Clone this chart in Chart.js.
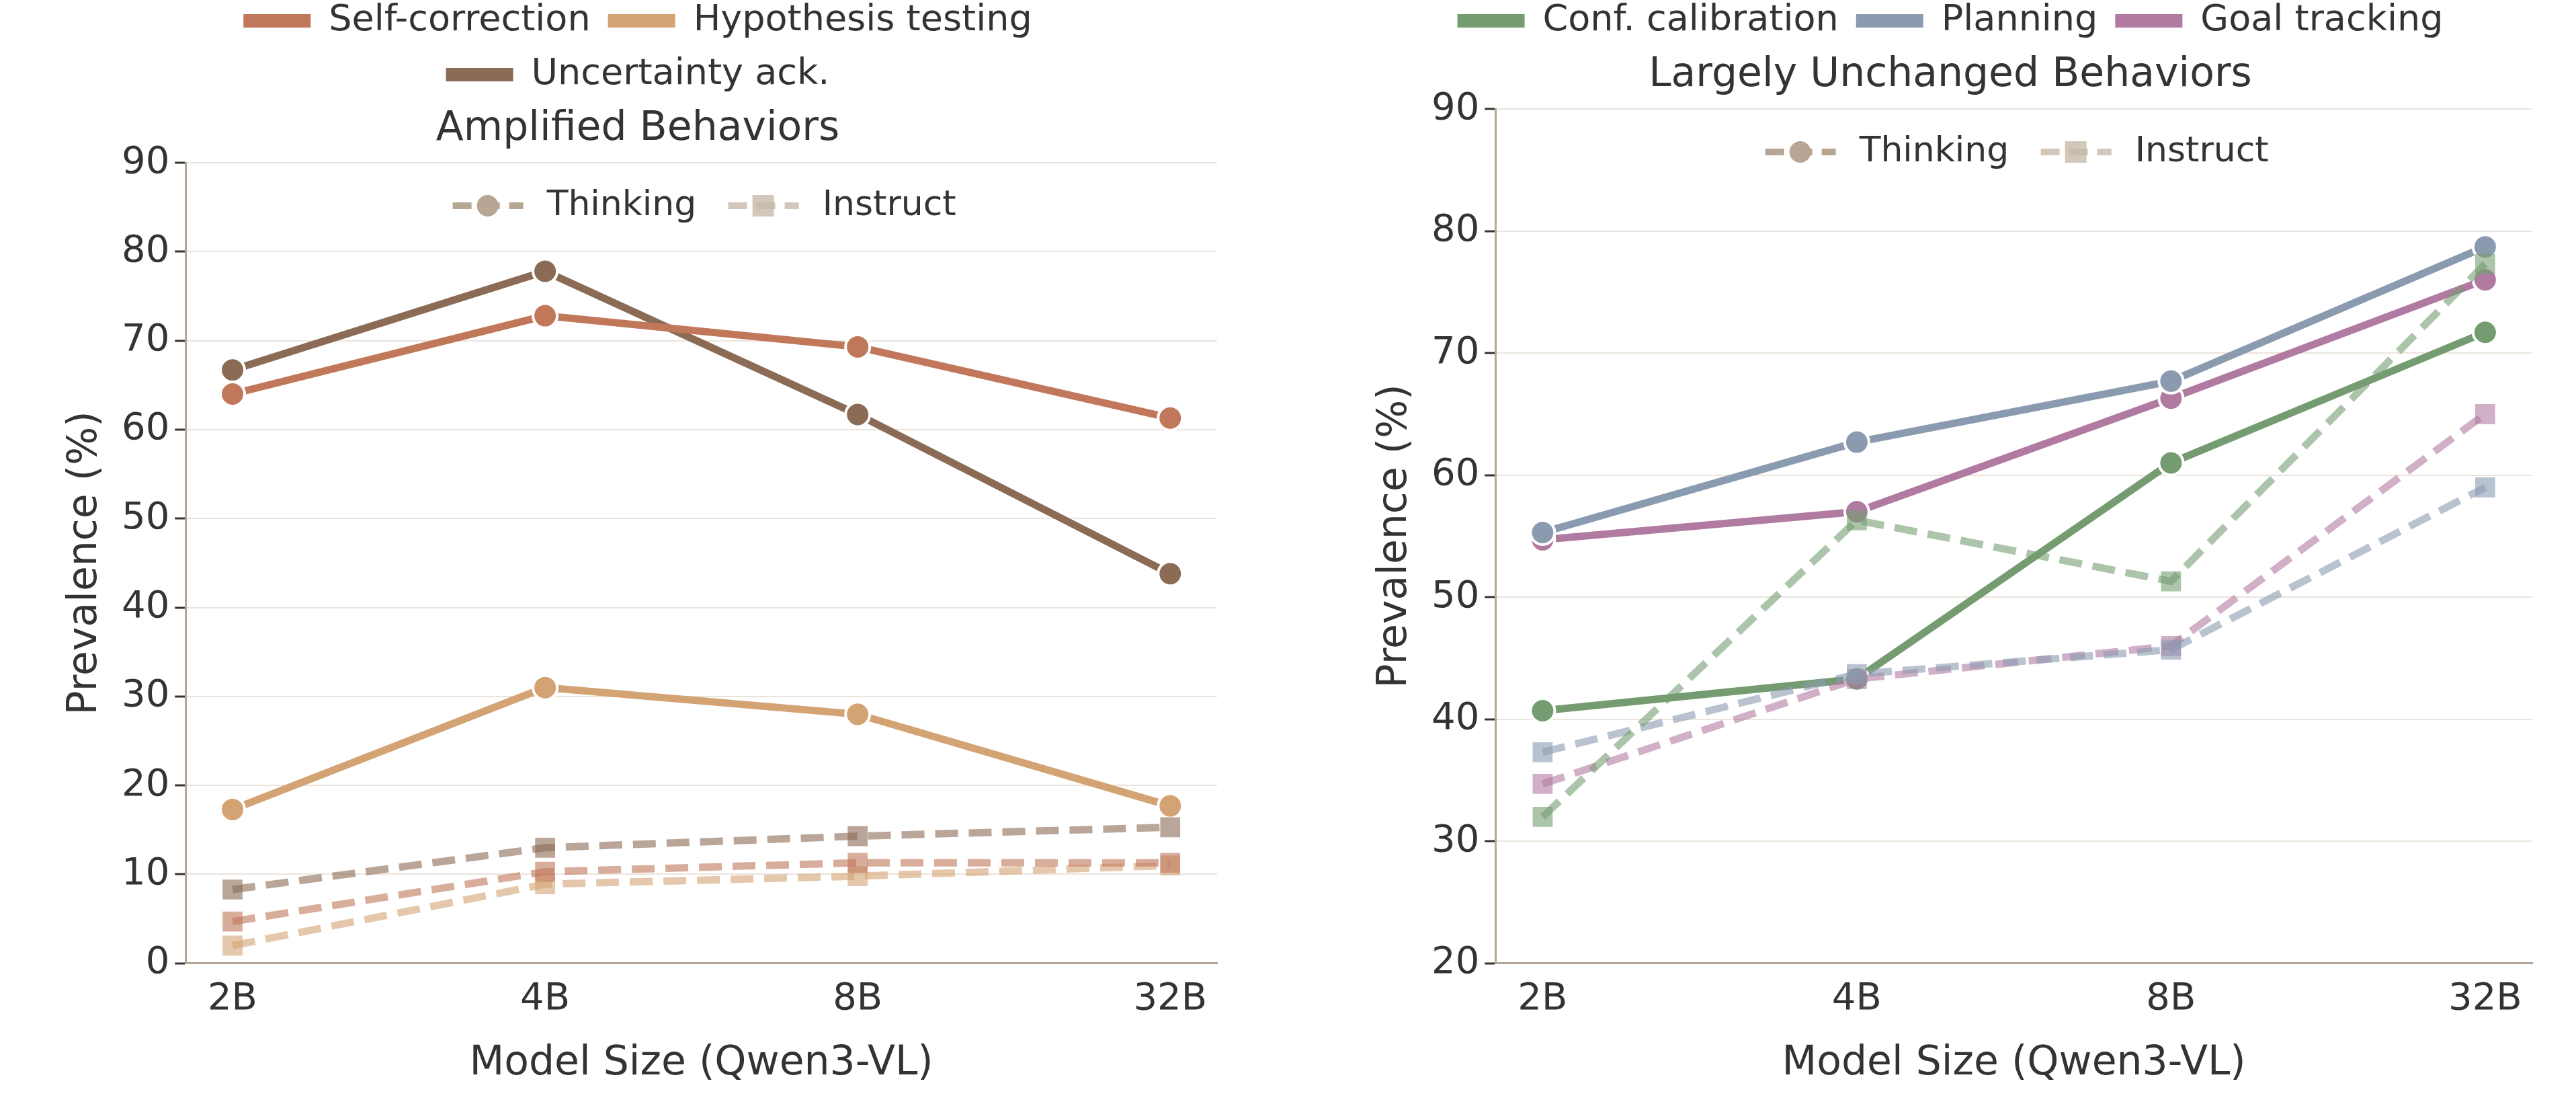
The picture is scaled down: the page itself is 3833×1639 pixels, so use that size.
<!DOCTYPE html>
<html>
<head>
<meta charset="utf-8">
<script src="https://cdn.jsdelivr.net/npm/chart.js@4.4.1/dist/chart.umd.min.js"></script>
<style>
  html, body { margin: 0; padding: 0; background: #fff; overflow: hidden; }
  .panel { position: absolute; top: -22px; height: 1640px; }
  #leftWrap { left: 0; width: 1916px; }
  #rightWrap { left: 1916px; width: 1917px; }
</style>
</head>
<body>
<div class="panel" id="leftWrap"><canvas id="chartLeft"></canvas></div>
<div class="panel" id="rightWrap"><canvas id="chartRight"></canvas></div>
<script>
// ---- Data ----
const sizes = ["2B", "4B", "8B", "32B"];

const ampNames = ["Self-correction", "Hypothesis testing", "Uncertainty ack."];
const ampColors = ["#c0775a", "#d4a373", "#8b6b55"];
const ampThinking = [
	[64.0, 72.8, 69.3, 61.3],
	[17.3, 31.0, 28.0, 17.7],
	[66.7, 77.8, 61.7, 43.8],
];
const ampInstruct = [
	[4.7, 10.3, 11.3, 11.3],
	[2.0, 8.9, 9.8, 11.0],
	[8.3, 13.0, 14.3, 15.3],
];

const unchNames = ["Conf. calibration", "Planning", "Goal tracking"];
const unchColors = ["#759c71", "#8a9bb0", "#b07aa1"];
const unchThinking = [
	[40.7, 43.3, 61.0, 71.7],
	[55.3, 62.7, 67.7, 78.7],
	[54.7, 57.0, 66.3, 76.0],
];
const unchInstruct = [
	[32.0, 56.3, 51.3, 77.3],
	[37.3, 43.7, 45.7, 59.0],
	[34.7, 43.3, 46.0, 65.0],
];

// ---- Helpers ----
const FONT = "'DejaVu Sans', sans-serif";
const TXT = "#333333";
const AXIS = "#b5a595";

function alpha(hex, a) {
	const n = parseInt(hex.slice(1), 16);
	return `rgba(${n >> 16},${(n >> 8) & 255},${n & 255},${a})`;
}
function pts(arr) {
	return arr.map((v, i) => ({ x: i, y: v }));
}

function buildDatasets(names, colors, thinking, instruct) {
	const ds = [];
	// instruct first so thinking lines sit on top
	names.forEach((n, i) => {
		ds.push({
			label: n + " (Instruct)",
			kind: "instruct",
			data: pts(instruct[i]),
			borderColor: alpha(colors[i], 0.6),
			backgroundColor: alpha(colors[i], 0.6),
			borderWidth: 11,
			borderDash: [34, 16],
			pointStyle: "rect",
			pointRadius: 21,
			pointBorderWidth: 0,
			pointBorderColor: "#fff",
		});
	});
	names.forEach((n, i) => {
		ds.push({
			label: n,
			kind: "thinking",
			data: pts(thinking[i]),
			borderColor: colors[i],
			backgroundColor: colors[i],
			borderWidth: 11,
			pointStyle: "circle",
			pointRadius: 18,
			pointBorderWidth: 4,
			pointBorderColor: "#fff",
		});
	});
	return ds;
}

// inner Thinking / Instruct legend
const styleLegend = {
	id: "styleLegend",
	afterDraw(chart) {
		const { ctx, chartArea } = chart;
		const cx = (chartArea.left + chartArea.right) / 2;
		const y = chartArea.top + 64;
		ctx.save();
		ctx.font = `52px ${FONT}`;
		ctx.textBaseline = "middle";
		const items = [
			{ t: "Thinking", c: "#b8a593", shape: "circle", x: cx - 370 },
			{ t: "Instruct", c: "rgba(200,185,170,0.8)", shape: "rect", x: cx + 40 },
		];
		for (const it of items) {
			ctx.strokeStyle = it.c;
			ctx.fillStyle = it.c;
			ctx.lineWidth = 10;
			ctx.setLineDash([28, 14]);
			ctx.beginPath();
			ctx.moveTo(it.x, y);
			ctx.lineTo(it.x + 105, y);
			ctx.stroke();
			ctx.setLineDash([]);
			ctx.beginPath();
			if (it.shape === "circle") ctx.arc(it.x + 52, y, 16, 0, Math.PI * 2);
			else ctx.rect(it.x + 36, y - 16, 32, 32);
			ctx.fill();
			ctx.fillStyle = TXT;
			ctx.fillText(it.t, it.x + 140, y);
		}
		ctx.restore();
	},
};

function buildChart(sel, title, names, colors, thinking, instruct, yMin, leftPad, rightPad) {
	return new Chart(document.querySelector(sel), {
		type: "line",
		data: { datasets: buildDatasets(names, colors, thinking, instruct) },
		plugins: [styleLegend],
		options: {
			responsive: true,
			maintainAspectRatio: false,
			animation: false,
			layout: { padding: { left: leftPad, right: rightPad, top: 0, bottom: 0 } },
			scales: {
				x: {
					type: "linear",
					min: -0.15,
					max: 3.15,
					afterBuildTicks: (ax) => {
						ax.ticks = [0, 1, 2, 3].map((v) => ({ value: v }));
					},
					ticks: {
						callback: (v) => sizes[v] ?? "",
						color: TXT,
						font: { family: FONT, size: 56 },
						padding: 4,
					},
					grid: { display: false, drawTicks: true, tickLength: 16, tickColor: "#333", tickWidth: 3 },
					border: { color: AXIS, width: 3 },
					title: {
						display: true,
						text: "Model Size (Qwen3-VL)",
						color: TXT,
						font: { family: FONT, size: 60 },
						padding: { top: 22, bottom: 0 },
					},
				},
				y: {
					min: yMin,
					max: 90,
					ticks: {
						stepSize: 10,
						color: TXT,
						font: { family: FONT, size: 56 },
						padding: 8,
					},
					grid: { color: "#ebe4dc", lineWidth: 2, tickLength: 16, tickColor: "#333", tickWidth: 3 },
					border: { color: AXIS, width: 3 },
					title: {
						display: true,
						text: "Prevalence (%)",
						color: TXT,
						font: { family: FONT, size: 60 },
						padding: { bottom: 10 },
					},
				},
			},
			plugins: {
				title: {
					display: true,
					text: title,
					color: TXT,
					weight: 1000,
					font: { family: FONT, size: 60, weight: "normal" },
					padding: { top: 8, bottom: 14 },
				},
				legend: {
					display: true,
					position: "top",
					weight: 3000,
					labels: {
						generateLabels: (chart) =>
							chart.data.datasets
								.map((d, i) => ({
									text: d.label,
									fillStyle: d.borderColor,
									strokeStyle: d.borderColor,
									lineWidth: 0,
									datasetIndex: i,
									fontColor: TXT,
								}))
								.filter((l) => chart.data.datasets[l.datasetIndex].kind === "thinking"),
						boxWidth: 100,
						boxHeight: 20,
						padding: 26,
						color: TXT,
						font: { family: FONT, size: 54 },
					},
				},
				tooltip: { enabled: false },
			},
		},
	});
}

buildChart("#chartLeft", "Amplified Behaviors", ampNames, ampColors, ampThinking, ampInstruct, 0, 87, 105);
buildChart("#chartRight", "Largely Unchanged Behaviors", unchNames, unchColors, unchThinking, unchInstruct, 20, 120, 65);
</script>
</body>
</html>
